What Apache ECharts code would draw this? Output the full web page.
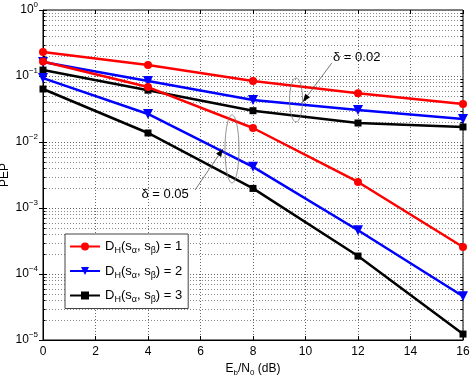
<!DOCTYPE html>
<html>
<head>
<meta charset="utf-8">
<script src="https://cdn.jsdelivr.net/npm/echarts@6/dist/echarts.min.js"></script>
<style>
  html, body { margin: 0; padding: 0; background: #fff; }
  #main { width: 470px; height: 376px; }
</style>
</head>
<body>
<div id="main"></div>
<script>
// Eb/N0 points (dB)
var snr = [0, 4, 8, 12, 16];

// PEP values, delta = 0.02
var red02 = [0.231, 0.147, 0.084, 0.055, 0.0377];
var blue02 = [0.163, 0.084, 0.0433, 0.0305, 0.0223];
var black02 = [0.123, 0.061, 0.0298, 0.0194, 0.0169];

// PEP values, delta = 0.05
var red05 = [0.166, 0.068, 0.0163, 0.00248, 0.000257];
var blue05 = [0.093, 0.0266, 0.0042, 0.00046, 0.000046];
var black05 = [0.0635, 0.0137, 0.00198, 0.000187, 0.0000123];

// annotations in data coords: [x, y]
var ell02 = [9.64, 0.0433];
var ell05 = [7.2, 0.00785];
var arrow02 = [[11.0, 0.157], [9.9, 0.0405]];
var arrow05 = [[5.79, 0.00187], [6.86, 0.0079]];
var label02 = [11.95, 0.194];
var label05 = [4.65, 0.00158];

var font = 'Liberation Sans, Arial, sans-serif';

function pairs(ys) {
  return snr.map(function (x, i) { return [x, ys[i]]; });
}

// minor gridlines for the log axis (2..9 x 10^k)
var minorVals = [];
for (var k = -5; k < 0; k++) {
  for (var m = 2; m <= 9; m++) minorVals.push(m * Math.pow(10, k));
}

function mkSeries(name, ys, color, symbol, rotate) {
  return {
    name: name,
    type: 'line',
    data: pairs(ys),
    symbol: symbol,
    symbolSize: symbol === 'triangle' ? 10 : (symbol === 'circle' ? 8 : 7),
    symbolRotate: rotate || 0,
    showSymbol: true,
    lineStyle: { color: color, width: 2.5 },
    itemStyle: { color: color },
    z: 5
  };
}

var chart = echarts.init(document.getElementById('main'));

var supRich = {
  b: { fontSize: 12, fontFamily: font, color: '#000' },
  s: { fontSize: 8, fontFamily: font, color: '#000', padding: [0, 0, 11, 0] }
};

chart.setOption({
  animation: false,
  textStyle: { fontFamily: font },
  grid: {
    left: 43, right: 7, top: 10, bottom: 36,
    outerBoundsMode: 'none', containLabel: false,
    show: true, borderColor: '#000', borderWidth: 1
  },
  legend: {
    orient: 'vertical',
    left: 65, top: 234,
    itemWidth: 30, itemHeight: 10,
    itemGap: 9,
    padding: [6, 6, 4, 4],
    backgroundColor: '#fff',
    borderColor: '#444', borderWidth: 1,
    data: ['D1', 'D2', 'D3'],
    formatter: function (n) {
      var v = n.slice(1);
      return '{n|D}{sub|H}{n|(s}{sub|α}{n|, s}{sub|β}{n|) = ' + v + '}';
    },
    textStyle: {
      rich: {
        n: { fontSize: 13, fontFamily: font, color: '#000' },
        sub: { fontSize: 9, fontFamily: font, color: '#000', padding: [9, 0, 0, 0] }
      }
    }
  },
  xAxis: [{
    type: 'value', min: 0, max: 16, interval: 2,
    name: 'E{sub|b}/N{sub|0} (dB)',
    nameLocation: 'middle', nameGap: 21,
    nameTextStyle: {
      fontSize: 12, color: '#000', fontFamily: font,
      rich: { sub: { fontSize: 8, fontFamily: font, color: '#000', padding: [7, 0, 0, 0] } }
    },
    axisLine: { lineStyle: { color: '#000' } },
    axisTick: { inside: true, length: 4, lineStyle: { color: '#000' } },
    axisLabel: { color: '#000', fontSize: 12, margin: 6 },
    splitLine: { show: true, lineStyle: { color: '#666', type: [1, 2], width: 1 } }
  }, {
    type: 'value', min: 0, max: 16, interval: 2, position: 'top',
    axisLine: { show: false },
    axisTick: { inside: true, length: 4, lineStyle: { color: '#000' } },
    axisLabel: { show: false },
    splitLine: { show: false }
  }],
  yAxis: [{
    type: 'log', min: 1e-5, max: 1, logBase: 10,
    axisLine: { lineStyle: { color: '#000' } },
    axisTick: { inside: true, length: 4, lineStyle: { color: '#000' } },
    axisLabel: {
      margin: 5,
      formatter: function (v) {
        var e = Math.round(Math.log10(v));
        return '{b|10}{s|' + (e === 0 ? '0' : '\u2212' + (-e)) + '}';
      },
      rich: supRich
    },
    splitLine: { show: true, lineStyle: { color: '#666', type: [1, 2], width: 1 } }
  }, {
    type: 'log', min: 1e-5, max: 1, logBase: 10, position: 'right',
    axisLine: { show: false },
    axisTick: { inside: true, length: 4, lineStyle: { color: '#000' } },
    axisLabel: { show: false },
    splitLine: { show: false }
  }],
  series: [
    mkSeries('D1', red02, '#ff0000', 'circle'),
    mkSeries('D2', blue02, '#0000ff', 'triangle', 180),
    mkSeries('D3', black02, '#000000', 'rect'),
    mkSeries('D1', red05, '#ff0000', 'circle'),
    mkSeries('D2', blue05, '#0000ff', 'triangle', 180),
    mkSeries('D3', black05, '#000000', 'rect')
  ]
});

function px(p) { return chart.convertToPixel({ gridIndex: 0 }, p); }

function arrowEls(a) {
  var s = px(a[0]), e = px(a[1]);
  var dx = e[0] - s[0], dy = e[1] - s[1];
  var L = Math.sqrt(dx * dx + dy * dy), ux = dx / L, uy = dy / L;
  var hl = 8, hw = 3;
  var bx = e[0] - ux * hl, by = e[1] - uy * hl;
  return [
    { type: 'line', shape: { x1: s[0], y1: s[1], x2: bx, y2: by },
      style: { stroke: '#555', lineWidth: 0.8 }, z: 10 },
    { type: 'polygon', shape: { points: [e, [bx - uy * hw, by + ux * hw], [bx + uy * hw, by - ux * hw]] },
      style: { fill: '#000' }, z: 10 }
  ];
}

function ellipse(c, rx, ry) {
  var p = px(c);
  return { type: 'ellipse', shape: { cx: p[0], cy: p[1], rx: rx, ry: ry },
    style: { fill: 'none', stroke: '#777', lineWidth: 0.8 }, z: 10 };
}

function label(c, t) {
  var p = px(c);
  return { type: 'text', x: p[0], y: p[1], z: 11,
    style: { text: t, fill: '#000', font: '13px ' + font, align: 'center', verticalAlign: 'middle' } };
}

// minor grid lines and minor ticks on both y sides
function minorEls() {
  var l = px([0, 1])[0], r = px([16, 1])[0];
  var els = [];
  minorVals.forEach(function (v) {
    var y = Math.round(px([0, v])[1]) + 0.5;
    els.push({ type: 'line', silent: true, z: 0,
      shape: { x1: l, y1: y, x2: r, y2: y },
      style: { stroke: '#888', lineWidth: 1, lineDash: [1, 2] } });
    els.push({ type: 'line', silent: true, z: 1,
      shape: { x1: l, y1: y, x2: l + 2.5, y2: y }, style: { stroke: '#000', lineWidth: 1 } });
    els.push({ type: 'line', silent: true, z: 1,
      shape: { x1: r - 2.5, y1: y, x2: r, y2: y }, style: { stroke: '#000', lineWidth: 1 } });
  });
  return els;
}

// y-axis title, placed by hand (v6 pushes the axis name off the edge)
var yTitle = { type: 'text', x: 5, y: 175, rotation: Math.PI / 2, z: 11,
  style: { text: 'PEP', fill: '#000', font: '12px ' + font, align: 'center', verticalAlign: 'middle' } };

chart.setOption({
  graphic: [].concat(
    minorEls(),
    [ellipse(ell02, 6.5, 22), ellipse(ell05, 7, 34)],
    arrowEls(arrow02), arrowEls(arrow05),
    [label(label02, '\u03b4 = 0.02'), label(label05, '\u03b4 = 0.05'), yTitle]
  )
});
</script>
</body>
</html>
